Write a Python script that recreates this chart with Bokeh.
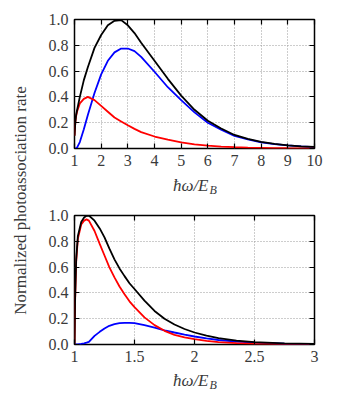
import math
from bokeh.plotting import figure
from bokeh.layouts import row, column
from bokeh.models import LinearAxis, FixedTicker, Range1d, NumeralTickFormatter
from bokeh.core.properties import value
from bokeh.embed import file_html
from bokeh.resources import INLINE

# ---------------- data: top panel (hbar*omega/E_B from 1 to 10) ----------------
x_top = [1.0, 1.03, 1.06, 1.1, 1.2, 1.35, 1.5, 1.75, 2.0, 2.25, 2.5, 2.75, 3.0, 3.25,
         3.5, 4.0, 4.5, 5.0, 5.5, 6.0, 6.5, 7.0, 7.5, 8.0, 8.5, 9.0, 9.5, 10.0]
black_top = [0.10, 0.20, 0.26, 0.30, 0.40, 0.53, 0.63, 0.78, 0.88, 0.955, 0.99, 0.995, 0.955, 0.895,
             0.82, 0.68, 0.54, 0.41, 0.30, 0.215, 0.155, 0.105, 0.075, 0.052, 0.036, 0.025, 0.017, 0.012]
blue_top = [0.0, 0.0, 0.002, 0.008, 0.05, 0.15, 0.26, 0.43, 0.575, 0.68, 0.745, 0.775, 0.775, 0.755,
            0.71, 0.595, 0.475, 0.375, 0.28, 0.20, 0.145, 0.098, 0.07, 0.048, 0.034, 0.024, 0.016, 0.011]
red_top = [0.10, 0.20, 0.25, 0.29, 0.35, 0.385, 0.40, 0.375, 0.33, 0.285, 0.24, 0.21, 0.18, 0.152,
           0.127, 0.093, 0.068, 0.047, 0.032, 0.022, 0.015, 0.01, 0.007, 0.005, 0.003, 0.002, 0.0015, 0.001]

# ---------------- data: bottom panel (hbar*omega/E_B from 1 to 3) ----------------
x_bot = [1.0, 1.005, 1.014, 1.028, 1.056, 1.08, 1.1, 1.12, 1.167, 1.21, 1.25, 1.29, 1.333, 1.375,
         1.417, 1.458, 1.5, 1.583, 1.667, 1.75, 1.833, 1.917, 2.0, 2.1, 2.2, 2.35, 2.5, 2.75, 3.0]
black_bot = [0.0, 0.35, 0.66, 0.84, 0.95, 0.985, 0.998, 1.0, 0.96, 0.90, 0.83, 0.745, 0.66, 0.59,
             0.53, 0.475, 0.43, 0.34, 0.26, 0.20, 0.155, 0.12, 0.093, 0.068, 0.05, 0.03, 0.018, 0.008, 0.004]
red_bot = [0.0, 0.33, 0.64, 0.82, 0.93, 0.96, 0.97, 0.96, 0.88, 0.78, 0.69, 0.60, 0.52, 0.45,
           0.39, 0.335, 0.29, 0.21, 0.15, 0.106, 0.075, 0.055, 0.041, 0.028, 0.018, 0.01, 0.005, 0.002, 0.0005]
blue_bot = [0.0, 0.0, 0.0, 0.001, 0.004, 0.009, 0.014, 0.02, 0.067, 0.098, 0.124, 0.145, 0.158, 0.165,
            0.168, 0.168, 0.165, 0.15, 0.13, 0.11, 0.093, 0.077, 0.062, 0.047, 0.035, 0.023, 0.014, 0.006, 0.003]

y_ticks = [0.0, 0.2, 0.4, 0.6, 0.8, 1.0]
x_ticks_top = [1, 2, 3, 4, 5, 6, 7, 8, 9, 10]
x_ticks_bot = [1, 1.5, 2, 2.5, 3]
x_tick_labels_bot = {1: "1", 1.5: "1.5", 2: "2", 2.5: "2.5", 3: "3"}
y_label = "Normalized photoassociation rate"
x_label_main = "ħω/E"
x_label_sub = "B"

FONT = "Liberation Serif"
LABEL_COLOR = "#3a3a3a"


def make_panel(xs, series, xmin, xmax, xticks, top_border, overrides=None):
    height = top_border + 129 + 26
    p = figure(width=296, height=height, output_backend="svg", toolbar_location=None,
               x_range=Range1d(xmin, xmax), y_range=Range1d(0, 1.0),
               min_border_left=40, min_border_right=16, min_border_top=top_border,
               min_border_bottom=26)
    p.outline_line_color = "black"
    p.outline_line_width = 1.5
    for ax in (p.xaxis[0], p.yaxis[0]):
        ax.major_tick_in = 5
        ax.major_tick_out = 0
        ax.minor_tick_line_color = None
        ax.axis_line_color = None
        ax.major_tick_line_color = "black"
        ax.major_tick_line_width = 1.2
        ax.major_label_text_font = FONT
        ax.major_label_text_font_size = "16px"
        ax.major_label_text_color = LABEL_COLOR
    p.xaxis[0].ticker = FixedTicker(ticks=xticks)
    p.yaxis[0].ticker = FixedTicker(ticks=y_ticks)
    p.yaxis[0].formatter = NumeralTickFormatter(format="0.0")
    p.xaxis[0].major_label_standoff = 6
    p.yaxis[0].major_label_standoff = 6
    if overrides:
        p.xaxis[0].major_label_overrides = overrides
    top = LinearAxis(ticker=FixedTicker(ticks=xticks))
    right = LinearAxis(ticker=FixedTicker(ticks=y_ticks))
    for ax in (top, right):
        ax.major_tick_in = 5
        ax.major_tick_out = 0
        ax.minor_tick_line_color = None
        ax.axis_line_color = None
        ax.major_tick_line_color = "black"
        ax.major_tick_line_width = 1.2
        ax.major_label_text_font_size = "0px"
        ax.major_label_text_color = None
        ax.major_label_standoff = 0
    p.add_layout(top, "above")
    p.add_layout(right, "right")

    p.xgrid.ticker = FixedTicker(ticks=xticks)
    p.ygrid.ticker = FixedTicker(ticks=y_ticks)
    for g in (p.xgrid[0], p.ygrid[0]):
        g.grid_line_color = "#9a9a9a"
        g.grid_line_dash = "1 2"
        g.grid_line_width = 1

    for ys, col in series:
        p.line(xs, ys, line_color=col, line_width=1.8)
    return p


def make_xlabel(height, center_from_top):
    # strip under a panel holding the x-axis title; ranges are in pixels
    f = figure(width=296, height=height, output_backend="svg", toolbar_location=None,
               x_range=Range1d(0, 240), y_range=Range1d(0, height),
               min_border_left=40, min_border_right=16, min_border_top=0, min_border_bottom=0)
    f.axis.visible = False
    f.grid.visible = False
    f.outline_line_color = None
    yc = height - center_from_top
    f.text(x=[134], y=[yc], text=[x_label_main], text_font=value(FONT),
           text_font_style="italic", text_font_size="17px", text_align="right",
           text_baseline="middle", text_color=LABEL_COLOR)
    f.text(x=[135], y=[yc - 4], text=[x_label_sub], text_font=value(FONT),
           text_font_style="italic", text_font_size="12px", text_align="left",
           text_baseline="middle", text_color=LABEL_COLOR)
    return f


p1 = make_panel(x_top, [(blue_top, "#0000ff"), (red_top, "#ff0000"), (black_top, "black")],
                1, 10, x_ticks_top, 19)
l1 = make_xlabel(26, 11)
p2 = make_panel(x_bot, [(blue_bot, "#0000ff"), (red_bot, "#ff0000"), (black_bot, "black")],
                1, 3, x_ticks_bot, 15, overrides=x_tick_labels_bot)
l2 = make_xlabel(22, 10)

lf = figure(width=34, height=392, output_backend="svg", toolbar_location=None,
            x_range=Range1d(0, 1), y_range=Range1d(0, 1), min_border=0)
lf.axis.visible = False
lf.grid.visible = False
lf.outline_line_color = None
lf.text(x=[0.59], y=[0.49], text=[y_label], angle=math.pi / 2, text_font=value(FONT),
        text_font_size="17px", text_align="center", text_baseline="middle",
        text_color=LABEL_COLOR)

layout = row(lf, column(p1, l1, p2, l2))
open("out.html", "w").write(file_html(layout, INLINE))
